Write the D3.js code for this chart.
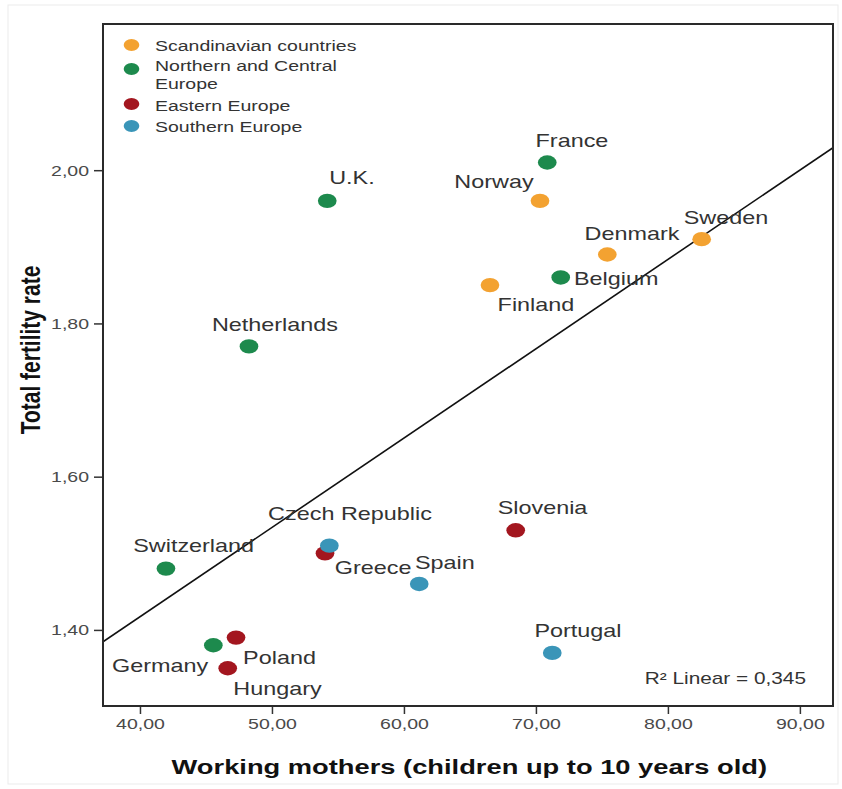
<!DOCTYPE html>
<html><head><meta charset="utf-8">
<script src="https://cdn.jsdelivr.net/npm/d3@7"></script>
<style>
body{margin:0;background:#fff;}
text{font-family:"Liberation Sans",Arial,sans-serif;}
</style>
</head><body>
<svg id="chart" width="842" height="789"></svg>
<script>
// ---------- data ----------
const countries = ["France","Norway","U.K.","Sweden","Denmark","Belgium","Finland","Netherlands",
  "Slovenia","Czech Republic","Greece","Spain","Switzerland","Germany","Poland","Hungary","Portugal"];
const regionOf = ["Northern and Central Europe","Scandinavian countries","Northern and Central Europe",
  "Scandinavian countries","Scandinavian countries","Northern and Central Europe","Scandinavian countries",
  "Northern and Central Europe","Eastern Europe","Eastern Europe","Southern Europe","Southern Europe",
  "Northern and Central Europe","Northern and Central Europe","Eastern Europe","Eastern Europe","Southern Europe"];
const workingMothers = [70.87,70.32,54.20,82.57,75.42,71.89,66.53,48.27,68.48,54.03,54.36,61.17,41.98,45.57,47.29,46.66,71.25];
const fertilityRate  = [2.01,1.96,1.96,1.91,1.89,1.86,1.85,1.77,1.53,1.50,1.51,1.46,1.48,1.38,1.39,1.35,1.37];
const groups = ["Scandinavian countries","Northern and Central Europe","Eastern Europe","Southern Europe"];
const groupColors = ["#f3a231","#1d8a4d","#a3161f","#3a95b8"];
const xTickValues = [40,50,60,70,80,90];
const yTickValues = [1.40,1.60,1.80,2.00];
const fitIntercept = 0.9506, fitSlope = 0.01166;
const r2Label = "R\u00B2 Linear = 0,345";
const xTitle = "Working mothers (children up to 10 years old)";
const yTitle = "Total fertility rate";

// ---------- layout (screen px offsets of labels from their point) ----------
const labelLayout = {
  "France":[24.7,-21.6,"middle"], "Norway":[-46,-19,"middle"], "U.K.":[24.7,-23.4,"middle"],
  "Sweden":[24.3,-21.7,"middle"], "Denmark":[24.7,-21,"middle"], "Belgium":[13.3,0.6,"start"],
  "Finland":[46,19.3,"middle"], "Netherlands":[26,-21.7,"middle"], "Slovenia":[26.8,-22.6,"middle"],
  "Czech Republic":[25,-39.7,"middle"], "Greece":[43.7,21.7,"middle"], "Spain":[25.7,-21.6,"middle"],
  "Switzerland":[27.7,-23,"middle"], "Germany":[-53.3,20.6,"middle"], "Poland":[43.5,20,"middle"],
  "Hungary":[49.8,20.7,"middle"], "Portugal":[25.7,-22.7,"middle"]
};

const SX = 1.3; // horizontal stretch of the original picture
const L = 103/SX, R = 833/SX, T = 24, B = 706;

const svg = d3.select("#chart");
svg.append("rect").attr("x",8).attr("y",5).attr("width",830).attr("height",779)
  .attr("fill","none").attr("stroke","#ebebeb").attr("stroke-width",1);

const g = svg.append("g").attr("transform",`scale(${SX},1)`);

const x = d3.scaleLinear().domain([37.21,92.52]).range([L,R]);
const y = d3.scaleLinear().domain([1.3007,2.1908]).range([B,T]);

const loc = d3.formatLocale({decimal:",",thousands:".",grouping:[3],currency:["",""]});
const fmt = loc.format(".2f");

// axes
const xAxis = g.append("g").attr("transform",`translate(0,${B})`)
  .call(d3.axisBottom(x).tickValues(xTickValues).tickFormat(fmt).tickSize(8).tickSizeOuter(0).tickPadding(4));
const yAxis = g.append("g").attr("transform",`translate(${L},0)`)
  .call(d3.axisLeft(y).tickValues(yTickValues).tickFormat(fmt).tickSize(9/SX).tickSizeOuter(0).tickPadding(5/SX));
[xAxis,yAxis].forEach(a=>{
  a.select(".domain").remove();
  a.selectAll(".tick line").attr("stroke","#333").attr("stroke-width",1.5).attr("vector-effect","non-scaling-stroke");
  a.selectAll(".tick text").attr("font-size",15).attr("fill","#4a4a4a")
    .attr("font-family","'Liberation Sans',Arial,sans-serif");
});

// regression line (clipped to frame)
g.append("clipPath").attr("id","clip").append("rect")
  .attr("x",L).attr("y",T).attr("width",R-L).attr("height",B-T);
const xd = x.domain();
g.append("line").attr("clip-path","url(#clip)")
  .attr("x1",x(xd[0])).attr("y1",y(fitIntercept+fitSlope*xd[0]))
  .attr("x2",x(xd[1])).attr("y2",y(fitIntercept+fitSlope*xd[1]))
  .attr("stroke","#111").attr("stroke-width",1.6).attr("vector-effect","non-scaling-stroke");

// points
const color = d3.scaleOrdinal().domain(groups).range(groupColors);
const pts = countries.map((c,i)=>({c, g:regionOf[i], xv:workingMothers[i], yv:fertilityRate[i]}));
g.append("g").selectAll("circle").data(pts).join("circle")
  .attr("cx",d=>x(d.xv)).attr("cy",d=>y(d.yv)).attr("r",7.2)
  .attr("fill",d=>color(d.g));

// labels
g.append("g").selectAll("text").data(pts).join("text")
  .attr("x",d=>x(d.xv)+labelLayout[d.c][0]/SX)
  .attr("y",d=>y(d.yv)+labelLayout[d.c][1])
  .attr("dy","0.36em")
  .attr("text-anchor",d=>labelLayout[d.c][2])
  .attr("font-size",18).attr("fill","#333")
  .text(d=>d.c);

// frame
g.append("rect").attr("x",L).attr("y",T).attr("width",R-L).attr("height",B-T)
  .attr("fill","none").attr("stroke","#2a2a2a").attr("stroke-width",2).attr("vector-effect","non-scaling-stroke");

// legend
const legRows = [
  {g:groups[0], lines:["Scandinavian countries"], my:45, ty:[46]},
  {g:groups[1], lines:["Northern and Central","Europe"], my:69, ty:[66,84]},
  {g:groups[2], lines:["Eastern Europe"], my:104, ty:[106]},
  {g:groups[3], lines:["Southern Europe"], my:126, ty:[127]}
];
const leg = g.append("g");
legRows.forEach(r=>{
  leg.append("circle").attr("cx",131.5/SX).attr("cy",r.my).attr("r",6).attr("fill",color(r.g));
  r.lines.forEach((t,k)=>{
    leg.append("text").attr("x",155/SX).attr("y",r.ty[k]).attr("dy","0.36em")
      .attr("font-size",15).attr("fill","#333").text(t);
  });
});

// R2
g.append("text").attr("x",806/SX).attr("y",678).attr("dy","0.36em").attr("text-anchor","end")
  .attr("font-size",16).attr("fill","#333").text(r2Label);

// titles
g.append("text").attr("x",(L+R)/2+1).attr("y",766).attr("dy","0.36em").attr("text-anchor","middle")
  .attr("font-size",21).attr("font-weight","bold").attr("fill","#111").text(xTitle);
g.append("text").attr("transform",`translate(${30/SX},350) rotate(-90)`).attr("dy","0.36em")
  .attr("text-anchor","middle").attr("font-size",21).attr("font-weight","bold").attr("fill","#111").text(yTitle);
</script>
</body></html>
